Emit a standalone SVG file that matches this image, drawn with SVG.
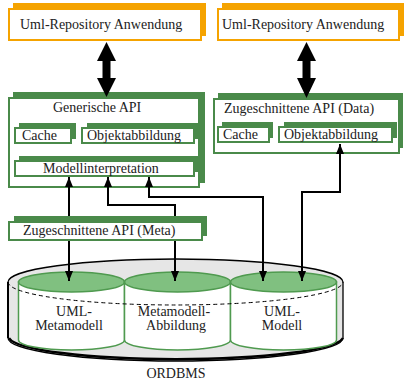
<svg xmlns="http://www.w3.org/2000/svg" width="404" height="385" viewBox="0 0 404 385">
<defs>
<style>
text{font-family:"Liberation Serif","Times New Roman",serif;font-size:14px;fill:#222}
.app{fill:#fff;stroke:#f5a300;stroke-width:2}
.appS{fill:#f5a300}
.box{fill:#fff;stroke:#4a8a4a;stroke-width:2}
.boxS{fill:#4a8a4a}
.con{fill:none;stroke:#000;stroke-width:2}
.cylB{fill:#fff;stroke:#4f9a4f;stroke-width:1.5}
.cylT{fill:#80c080;stroke:#4f9a4f;stroke-width:1.5}
.mid{text-anchor:middle}
</style>
<marker id="ah" viewBox="0 0 10 8" markerWidth="10" markerHeight="8" refX="10" refY="4" orient="auto-start-reverse" markerUnits="userSpaceOnUse">
<path d="M0,0 L10,4 L0,8 Z" fill="#000"/>
</marker>
</defs>

<g id="db">
<path d="M8,282 L8,338 A167.5,23 0 0 0 343,338 L343,282 A167.5,23 0 0 0 8,282 Z" fill="#e6e6e6" stroke="#000" stroke-width="1.3"/>
<path d="M9,338 A167.5,23 0 0 0 343,338" fill="none" stroke="#000" stroke-width="2.5"/>
<path d="M8,282 L8,338" stroke="#000" stroke-width="2"/>
<text x="176" y="378" class="mid">ORDBMS</text>
</g>

<g id="cyl-metamodell">
<path class="cylB" d="M18.5,282 L18.5,340 A53,10 0 0 0 124.5,340 L124.5,282 Z"/>
<ellipse class="cylT" cx="71.5" cy="282" rx="53" ry="10"/>
</g>
<g id="cyl-abbildung">
<path class="cylB" d="M124.5,282 L124.5,340 A53,10 0 0 0 230.5,340 L230.5,282 Z"/>
<ellipse class="cylT" cx="177.5" cy="282" rx="53" ry="10"/>
</g>
<g id="cyl-modell">
<path class="cylB" d="M230.5,282 L230.5,340 A53,10 0 0 0 336.5,340 L336.5,282 Z"/>
<ellipse class="cylT" cx="283.5" cy="282" rx="53" ry="10"/>
</g>
<path d="M8,282 A167.5,23 0 0 0 343,282" fill="none" stroke="#000" stroke-width="1" stroke-dasharray="4,3"/>
<g id="cyl-labels">
<text x="74" y="316" class="mid">UML-</text>
<text x="69" y="330" class="mid">Metamodell</text>
<text x="174" y="316" class="mid">Metamodell-</text>
<text x="176" y="330" class="mid">Abbildung</text>
<text x="282" y="316" class="mid">UML-</text>
<text x="282" y="330" class="mid">Modell</text>
</g>

<g id="app-left">
<rect class="appS" x="13" y="3" width="193" height="33"/>
<rect class="app" x="9" y="9" width="192" height="31"/>
<text x="20" y="29">Uml-Repository Anwendung</text>
</g>
<g id="app-right">
<rect class="appS" x="222" y="3" width="182" height="33"/>
<rect class="app" x="218" y="9" width="181" height="31"/>
<text x="222" y="29">Uml-Repository Anwendung</text>
</g>

<g id="generische-api">
<rect class="boxS" x="13" y="92" width="192" height="91"/>
<rect class="box" x="9" y="98" width="190" height="89"/>
<text x="53" y="112">Generische API</text>
</g>
<g id="cache-gen">
<rect class="boxS" x="19" y="123" width="57" height="16"/>
<rect class="box" x="15" y="128" width="56" height="15"/>
<text x="22" y="140">Cache</text>
</g>
<g id="objekt-gen">
<rect class="boxS" x="87" y="123" width="112" height="16"/>
<rect class="box" x="82" y="128" width="112" height="15"/>
<text x="87" y="140">Objektabbildung</text>
</g>
<g id="modellinterpretation">
<rect class="boxS" x="19" y="156" width="180" height="16"/>
<rect class="box" x="15" y="161" width="179" height="15"/>
<text x="43" y="173">Modellinterpretation</text>
</g>

<g id="data-api">
<rect class="boxS" x="218" y="93" width="185" height="55"/>
<rect class="box" x="214" y="99" width="185" height="54"/>
<text x="224" y="113">Zugeschnittene API (Data)</text>
</g>
<g id="cache-data">
<rect class="boxS" x="222" y="122" width="51" height="16"/>
<rect class="box" x="218" y="127" width="51" height="15"/>
<text x="223" y="139">Cache</text>
</g>
<g id="objekt-data">
<rect class="boxS" x="284" y="122" width="113" height="16"/>
<rect class="box" x="279" y="127" width="113" height="15"/>
<text x="284" y="139">Objektabbildung</text>
</g>

<g id="connectors">
<polygon points="106.5,42 116,61 110.5,61 110.5,78 116,78 106.5,97 97,78 102.5,78 102.5,61 97,61" fill="#000"/>
<polygon points="306.5,42 316,61 310.5,61 310.5,78 316,78 306.5,98 297,78 302.5,78 302.5,61 297,61" fill="#000"/>
<path class="con" d="M69,177 L69,281" marker-start="url(#ah)" marker-end="url(#ah)"/>
<path class="con" d="M108,177 L108,205 L175,205 L175,281" marker-start="url(#ah)" marker-end="url(#ah)"/>
<path class="con" d="M149,177 L149,197 L263,197 L263,281" marker-start="url(#ah)" marker-end="url(#ah)"/>
<path class="con" d="M340,144 L340,192 L302,192 L302,281" marker-start="url(#ah)" marker-end="url(#ah)"/>
</g>

<g id="meta-api">
<rect class="boxS" x="14" y="216" width="193" height="20"/>
<rect class="box" x="9" y="222" width="193" height="18"/>
<text x="23" y="235">Zugeschnittene API (Meta)</text>
</g>
</svg>
